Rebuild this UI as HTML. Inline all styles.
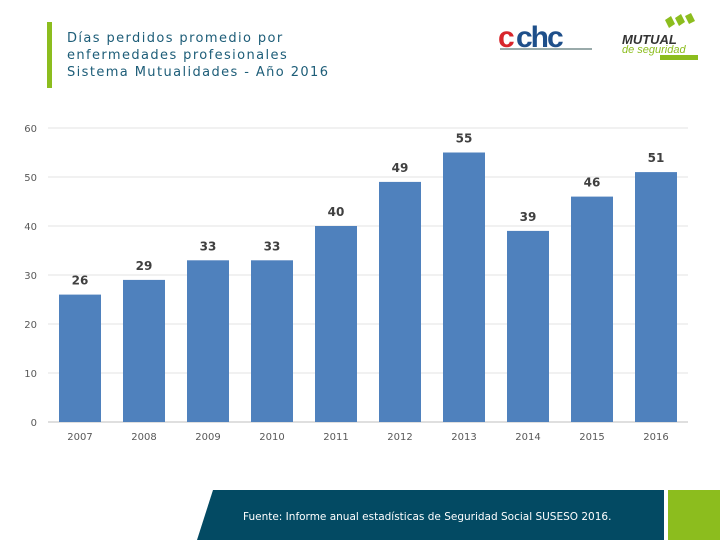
<!DOCTYPE html>
<html><head><meta charset="utf-8"><style>
body{margin:0;width:720px;height:540px;overflow:hidden;background:#fff;font-family:"Liberation Sans","DejaVu Sans",sans-serif;position:relative}
.t{position:absolute;left:67px;top:30px;font-family:"DejaVu Sans",sans-serif;font-size:13px;letter-spacing:1.4px;line-height:17px;color:#1d5d78}
</style></head><body>
<div style="position:absolute;left:47px;top:22px;width:5px;height:66px;background:#8cbd1e"></div>
<div class="t">Días perdidos promedio por<br>enfermedades profesionales<br>Sistema Mutualidades - Año 2016</div>
<svg width="720" height="100" style="position:absolute;left:0;top:0">
<g>
<text x="498" y="47" font-family="Liberation Sans" font-weight="bold" font-size="30" fill="#d8262c" letter-spacing="-2">c</text>
<text x="516" y="47" font-family="Liberation Sans" font-weight="bold" font-size="30" fill="#1e4f8a" letter-spacing="-2">chc</text>
<rect x="500" y="48" width="92" height="2" fill="#9aa"/>
</g>
<g>
<path d="M665 20l6-4 4 8-6 4zM675 18l6-4 4 8-6 4zM685 16l6-3 4 8-6 3z" fill="#8cbd1e"/>
<text x="622" y="44" font-family="Liberation Sans" font-weight="bold" font-style="italic" font-size="13" fill="#333">MUTUAL</text>
<text x="622" y="53" font-family="Liberation Sans" font-style="italic" font-size="11" fill="#8cbd1e">de seguridad</text>
<rect x="660" y="55" width="38" height="5" fill="#8cbd1e"/>
</g>
</svg>
<svg id="c" width="720" height="470" style="position:absolute;left:0;top:0"></svg>
<div style="position:absolute;left:197px;top:490px;width:467px;height:50px;background:#034a63;clip-path:polygon(16px 0,100% 0,100% 100%,0 100%);border-top-left-radius:8px"></div>
<div style="position:absolute;left:243px;top:511px;font-family:'DejaVu Sans',sans-serif;font-size:10.5px;color:#fff">Fuente: Informe anual estadísticas de Seguridad Social SUSESO 2016.</div>
<div style="position:absolute;left:668px;top:490px;width:52px;height:50px;background:#8cbd1e"></div>
<script>
const years=["2007","2008","2009","2010","2011","2012","2013","2014","2015","2016"];
const values=[26,29,33,33,40,49,55,39,46,51];
const ticks=[0,10,20,30,40,50,60];
const svg=document.getElementById('c');const NS='http://www.w3.org/2000/svg';
const y0=422,yTop=128,vmax=60,xL=48,step=64;
const Y=v=>y0-(v/vmax)*(y0-yTop);
const X=i=>xL+step*i+step/2;
function mk(t,a){const e=document.createElementNS(NS,t);for(const k in a)e.setAttribute(k,a[k]);svg.appendChild(e);return e;}
ticks.forEach(t=>{
const l=mk('line',{x1:xL,x2:688,y1:Y(t),y2:Y(t),stroke:t===0?'#bfbfbf':'#e3e3e3','stroke-width':1});


const tx=mk('text',{x:37,y:Y(t)+4,'text-anchor':'end','font-size':10,fill:'#595959','font-family':'DejaVu Sans'});tx.textContent=t;


});
years.forEach((yr,i)=>{
const v=values[i];
const r=mk('rect',{x:X(i)-21,y:Y(v),width:42,height:y0-Y(v),fill:'#4f81bd'});


const lb=mk('text',{x:X(i),y:Y(v)-10,'text-anchor':'middle','font-size':12,'font-weight':'bold',fill:'#404040','font-family':'DejaVu Sans'});lb.textContent=v;


const xt=mk('text',{x:X(i),y:440,'text-anchor':'middle','font-size':10,fill:'#595959','font-family':'DejaVu Sans'});xt.textContent=yr;


});
</script>
</body></html>
